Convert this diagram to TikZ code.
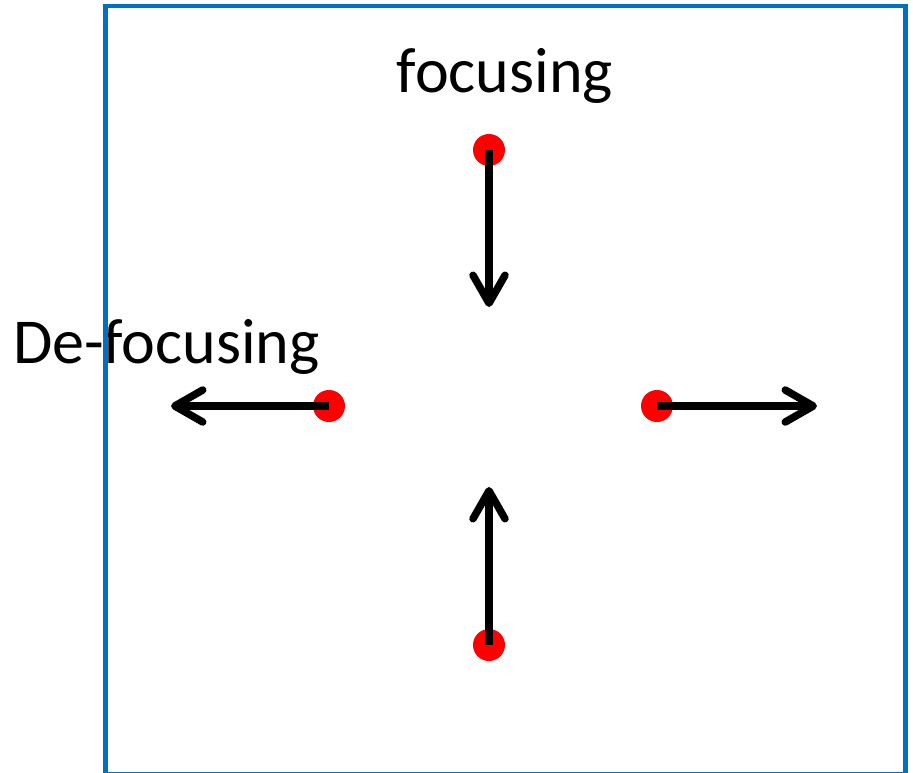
\documentclass[tikz,border=0pt]{standalone}
\usepackage{fontspec}
\setmainfont{Carlito}
\usetikzlibrary{arrows.meta}
\definecolor{frameblue}{RGB}{0,112,192}
\definecolor{dotred}{RGB}{255,0,0}
\begin{document}
\begin{tikzpicture}[x=1pt,y=-1pt,
  dotnode/.style={circle,fill=dotred,minimum size=32pt,inner sep=0pt},
  labeltext/.style={inner sep=0pt,anchor=base,font=\fontsize{64}{72}\selectfont},
  motion/.style={line width=7.5pt,-{Straight Barb[length=28pt,width=32pt,line cap=round,line join=round]}}]
\useasboundingbox (0,0) rectangle (913,772);
\node[labeltext] (focus) at (505,92) {focusing};
\node[labeltext] (defocus) at (166.5,363) {De-focusing};
\node[dotnode] (dtop) at (489,150) {};
\node[dotnode] (dleft) at (329,406) {};
\node[dotnode] (dright) at (657,406) {};
\node[dotnode] (dbot) at (489,645) {};
\coordinate (ttop) at (489,307);
\coordinate (tleft) at (171,406);
\coordinate (tright) at (817,406);
\coordinate (tbot) at (489,487);
\draw[motion] (dtop.center) -- (ttop);
\draw[motion] (dleft.center) -- (tleft);
\draw[motion] (dright.center) -- (tright);
\draw[motion] (dbot.center) -- (tbot);
\draw[frameblue,line width=4.5pt] (105.5,774.5) -- (105.5,6) -- (905.5,6) -- (905.5,774.5) -- cycle;
\end{tikzpicture}
\end{document}
